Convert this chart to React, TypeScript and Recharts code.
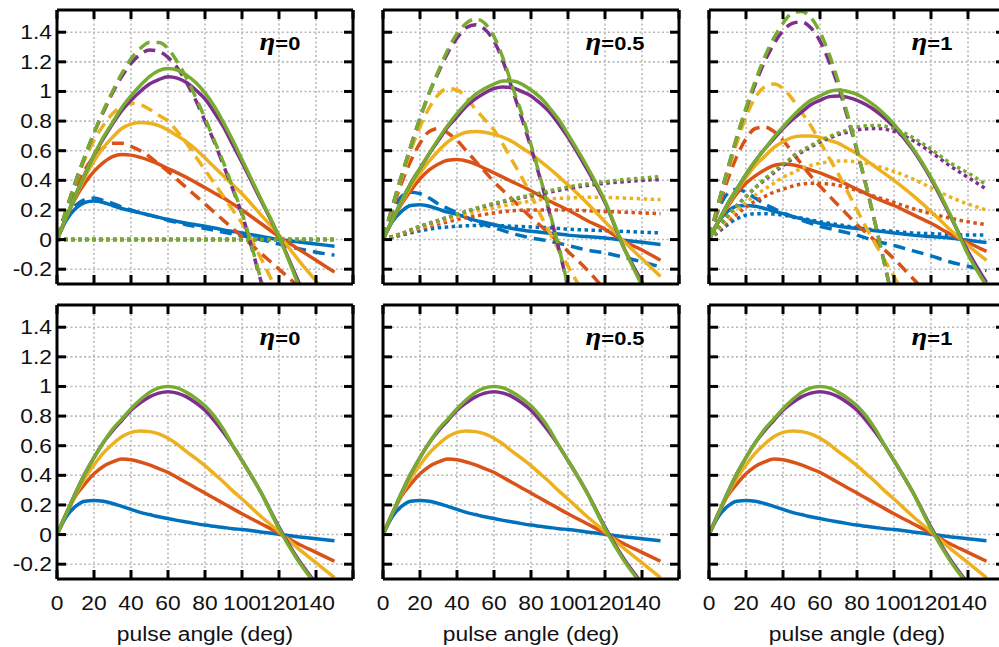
import React from "react";
import { LineChart, Line, XAxis, YAxis, CartesianGrid, ReferenceDot } from "recharts";

const ANGLES = [0, 5, 10, 15, 20, 25, 30, 35, 40, 45, 50, 55, 60, 65, 70, 75, 80, 85, 90, 95, 100, 110, 120, 130, 140, 150];

const X_DOMAIN = [0, 160];
const X_TICKS = [0, 20, 40, 60, 80, 100, 120, 140, 160];
const X_LABEL_MAX = 140;
const Y_DOMAIN = [-0.3, 1.55];
const Y_TICKS = [-0.2, 0, 0.2, 0.4, 0.6, 0.8, 1, 1.2, 1.4];
const ETA_LABELS = ["0", "0.5", "1"];
const ETA_POS = { x: 109.5, y: 1.277 };
const X_TITLE = "pulse angle (deg)";

// ---- bottom row (identical in all three panels) ----
const BOT_BLUE = [0, 0.12, 0.19, 0.225, 0.23, 0.225, 0.21, 0.19, 0.17, 0.15, 0.135, 0.12, 0.108, 0.096, 0.085, 0.074, 0.064, 0.056, 0.048, 0.04, 0.034, 0.018, 0.002, -0.014, -0.028, -0.042];
const BOT_RED = [0, 0.14, 0.26, 0.34, 0.41, 0.46, 0.49, 0.51, 0.505, 0.49, 0.47, 0.445, 0.42, 0.385, 0.35, 0.315, 0.28, 0.245, 0.21, 0.175, 0.14, 0.075, 0.01, -0.06, -0.12, -0.18];
const BOT_YELLOW = [0, 0.14, 0.27, 0.38, 0.47, 0.55, 0.61, 0.66, 0.69, 0.7, 0.695, 0.68, 0.65, 0.61, 0.56, 0.515, 0.465, 0.41, 0.355, 0.295, 0.24, 0.125, 0.02, -0.09, -0.19, -0.29];
const BOT_PURPLE = [0, 0.14, 0.28, 0.41, 0.52, 0.62, 0.7, 0.77, 0.84, 0.89, 0.93, 0.955, 0.965, 0.955, 0.93, 0.89, 0.84, 0.77, 0.69, 0.6, 0.5, 0.29, 0.05, -0.16, -0.33, -0.49];
const BOT_GREEN = [0, 0.14, 0.28, 0.41, 0.52, 0.62, 0.71, 0.78, 0.85, 0.91, 0.96, 0.99, 1.0, 0.99, 0.96, 0.92, 0.87, 0.8, 0.71, 0.6, 0.5, 0.29, 0.04, -0.17, -0.34, -0.5];

// ---- top row, eta = 0 ----
const E0_SOLID_BLUE = [0, 0.13, 0.21, 0.25, 0.26, 0.25, 0.23, 0.21, 0.195, 0.18, 0.165, 0.15, 0.135, 0.122, 0.11, 0.1, 0.09, 0.078, 0.065, 0.055, 0.045, 0.022, 0.0, -0.015, -0.03, -0.045];
const E0_SOLID_RED = [0, 0.15, 0.28, 0.38, 0.46, 0.52, 0.56, 0.575, 0.57, 0.555, 0.535, 0.51, 0.48, 0.45, 0.42, 0.385, 0.35, 0.315, 0.28, 0.24, 0.2, 0.11, 0.02, -0.06, -0.14, -0.22];
const E0_SOLID_YELLOW = [0, 0.15, 0.29, 0.42, 0.53, 0.62, 0.69, 0.75, 0.78, 0.79, 0.785, 0.77, 0.74, 0.7, 0.66, 0.61, 0.55, 0.49, 0.43, 0.37, 0.31, 0.17, 0.03, -0.13, -0.28, -0.43];
const E0_SOLID_PURPLE = [0, 0.15, 0.3, 0.44, 0.57, 0.68, 0.78, 0.87, 0.94, 1.0, 1.05, 1.08, 1.1, 1.09, 1.06, 1.01, 0.95, 0.86, 0.76, 0.64, 0.52, 0.27, 0.02, -0.27, -0.55, -0.85];
const E0_SOLID_GREEN = [0, 0.15, 0.3, 0.44, 0.57, 0.69, 0.79, 0.89, 0.97, 1.04, 1.1, 1.14, 1.155, 1.145, 1.11, 1.06, 0.99, 0.9, 0.79, 0.67, 0.54, 0.28, 0.02, -0.29, -0.6, -0.9];
const E0_DASH_BLUE = [0, 0.14, 0.23, 0.27, 0.28, 0.265, 0.245, 0.22, 0.2, 0.18, 0.165, 0.15, 0.13, 0.115, 0.1, 0.088, 0.075, 0.062, 0.05, 0.037, 0.025, 0.0, -0.03, -0.06, -0.085, -0.105];
const E0_DASH_RED = [0, 0.19, 0.35, 0.47, 0.56, 0.62, 0.65, 0.65, 0.63, 0.6, 0.56, 0.51, 0.46, 0.405, 0.35, 0.295, 0.24, 0.185, 0.13, 0.075, 0.02, -0.09, -0.2, -0.31, null, null];
const E0_DASH_YELLOW = [0, 0.2, 0.38, 0.54, 0.67, 0.77, 0.85, 0.9, 0.92, 0.91, 0.88, 0.84, 0.8, 0.73, 0.65, 0.56, 0.47, 0.38, 0.29, 0.2, 0.11, -0.12, -0.38, null, null, null];
const E0_DASH_PURPLE = [0, 0.2, 0.39, 0.56, 0.72, 0.86, 0.99, 1.1, 1.19, 1.25, 1.28, 1.27, 1.23, 1.16, 1.06, 0.94, 0.8, 0.66, 0.5, 0.34, 0.17, -0.27, -0.7, null, null, null];
const E0_DASH_GREEN = [0, 0.2, 0.39, 0.56, 0.72, 0.87, 1.0, 1.12, 1.22, 1.29, 1.33, 1.33, 1.29, 1.2, 1.09, 0.96, 0.82, 0.67, 0.52, 0.35, 0.18, -0.26, -0.7, null, null, null];
const E0_DOT = [0, 0, 0, 0, 0, 0, 0, 0, 0, 0, 0, 0, 0, 0, 0, 0, 0, 0, 0, 0, 0, 0, 0, 0, 0, 0];

// ---- top row, eta = 0.5 ----
const E05_SOLID_BLUE = [0, 0.12, 0.19, 0.23, 0.235, 0.225, 0.205, 0.185, 0.17, 0.15, 0.13, 0.115, 0.1, 0.087, 0.075, 0.065, 0.056, 0.05, 0.043, 0.037, 0.03, 0.02, 0.01, -0.005, -0.018, -0.033];
const E05_SOLID_RED = [0, 0.13, 0.24, 0.33, 0.41, 0.47, 0.51, 0.535, 0.54, 0.53, 0.51, 0.48, 0.45, 0.42, 0.39, 0.36, 0.33, 0.295, 0.26, 0.23, 0.2, 0.13, 0.07, -0.01, -0.07, -0.14];
const E05_SOLID_YELLOW = [0, 0.13, 0.25, 0.36, 0.45, 0.53, 0.6, 0.66, 0.7, 0.725, 0.73, 0.725, 0.71, 0.69, 0.66, 0.62, 0.58, 0.53, 0.48, 0.425, 0.37, 0.25, 0.12, -0.01, -0.13, -0.25];
const E05_SOLID_PURPLE = [0, 0.13, 0.26, 0.38, 0.48, 0.58, 0.67, 0.76, 0.83, 0.9, 0.95, 0.99, 1.02, 1.03, 1.025, 1.0, 0.97, 0.92, 0.86, 0.78, 0.69, 0.48, 0.25, -0.05, -0.29, -0.55];
const E05_SOLID_GREEN = [0, 0.13, 0.26, 0.38, 0.48, 0.58, 0.68, 0.77, 0.85, 0.92, 0.98, 1.02, 1.05, 1.07, 1.07, 1.05, 1.01, 0.96, 0.89, 0.81, 0.71, 0.5, 0.26, -0.05, -0.31, -0.56];
const E05_DASH_BLUE = [0, 0.19, 0.29, 0.32, 0.31, 0.28, 0.24, 0.21, 0.18, 0.15, 0.12, 0.1, 0.08, 0.06, 0.04, 0.025, 0.01, 0.0, -0.01, -0.025, -0.04, -0.07, -0.09, -0.12, -0.15, -0.185];
const E05_DASH_RED = [0, 0.2, 0.38, 0.53, 0.65, 0.73, 0.75, 0.72, 0.67, 0.6, 0.53, 0.46, 0.39, 0.33, 0.27, 0.21, 0.15, 0.095, 0.04, -0.02, -0.08, -0.2, -0.34, null, null, null];
const E05_DASH_YELLOW = [0, 0.21, 0.41, 0.6, 0.76, 0.89, 0.98, 1.02, 1.01, 0.96, 0.88, 0.81, 0.74, 0.64, 0.53, 0.42, 0.3, 0.17, 0.05, -0.07, -0.18, -0.4, null, null, null, null];
const E05_DASH_PURPLE = [0, 0.22, 0.43, 0.63, 0.82, 0.99, 1.13, 1.26, 1.36, 1.43, 1.45, 1.42, 1.34, 1.2, 1.01, 0.82, 0.62, 0.41, 0.18, -0.06, -0.32, null, null, null, null, null];
const E05_DASH_GREEN = [0, 0.22, 0.43, 0.63, 0.82, 0.99, 1.14, 1.28, 1.39, 1.46, 1.49, 1.46, 1.37, 1.22, 1.03, 0.85, 0.64, 0.42, 0.19, -0.05, -0.32, null, null, null, null, null];
const E05_DOT_BLUE = [0, 0.015, 0.03, 0.045, 0.06, 0.07, 0.08, 0.085, 0.09, 0.093, 0.095, 0.095, 0.095, 0.093, 0.09, 0.088, 0.085, 0.082, 0.08, 0.075, 0.07, 0.065, 0.06, 0.055, 0.05, 0.045];
const E05_DOT_RED = [0, 0.02, 0.035, 0.055, 0.075, 0.09, 0.105, 0.12, 0.135, 0.148, 0.16, 0.17, 0.18, 0.188, 0.195, 0.198, 0.2, 0.2, 0.2, 0.2, 0.2, 0.195, 0.19, 0.185, 0.18, 0.175];
const E05_DOT_YELLOW = [0, 0.02, 0.04, 0.06, 0.08, 0.1, 0.12, 0.138, 0.155, 0.172, 0.19, 0.203, 0.215, 0.228, 0.24, 0.25, 0.26, 0.268, 0.275, 0.278, 0.28, 0.285, 0.285, 0.28, 0.275, 0.27];
const E05_DOT_PURPLE = [0, 0.02, 0.04, 0.065, 0.09, 0.11, 0.13, 0.15, 0.17, 0.19, 0.21, 0.225, 0.24, 0.255, 0.27, 0.283, 0.295, 0.308, 0.32, 0.333, 0.345, 0.365, 0.38, 0.39, 0.4, 0.405];
const E05_DOT_GREEN = [0, 0.02, 0.04, 0.065, 0.09, 0.11, 0.13, 0.15, 0.17, 0.19, 0.21, 0.228, 0.245, 0.26, 0.275, 0.288, 0.3, 0.315, 0.33, 0.343, 0.355, 0.375, 0.39, 0.405, 0.415, 0.425];

// ---- top row, eta = 1 ----
const E1_SOLID_BLUE = [0, 0.12, 0.19, 0.225, 0.23, 0.225, 0.21, 0.192, 0.175, 0.157, 0.14, 0.125, 0.11, 0.1, 0.09, 0.082, 0.075, 0.067, 0.06, 0.052, 0.045, 0.03, 0.02, 0.01, -0.005, -0.02];
const E1_SOLID_RED = [0, 0.12, 0.22, 0.31, 0.38, 0.43, 0.47, 0.5, 0.51, 0.505, 0.49, 0.47, 0.45, 0.425, 0.4, 0.37, 0.34, 0.31, 0.28, 0.255, 0.23, 0.17, 0.11, 0.04, -0.02, -0.08];
const E1_SOLID_YELLOW = [0, 0.12, 0.23, 0.33, 0.42, 0.5, 0.56, 0.62, 0.66, 0.69, 0.7, 0.7, 0.69, 0.67, 0.65, 0.615, 0.58, 0.535, 0.49, 0.445, 0.4, 0.3, 0.19, 0.07, -0.04, -0.14];
const E1_SOLID_PURPLE = [0, 0.12, 0.24, 0.34, 0.44, 0.53, 0.61, 0.68, 0.75, 0.81, 0.86, 0.91, 0.94, 0.965, 0.97, 0.96, 0.94, 0.91, 0.87, 0.82, 0.76, 0.61, 0.41, 0.17, -0.08, -0.29];
const E1_SOLID_GREEN = [0, 0.12, 0.24, 0.34, 0.44, 0.53, 0.61, 0.69, 0.76, 0.83, 0.89, 0.94, 0.97, 1.0, 1.01, 1.0, 0.98, 0.945, 0.9, 0.845, 0.78, 0.62, 0.42, 0.18, -0.1, -0.31];
const E1_DASH_BLUE = [0, 0.2, 0.31, 0.34, 0.32, 0.28, 0.24, 0.21, 0.18, 0.155, 0.13, 0.11, 0.09, 0.075, 0.06, 0.045, 0.03, 0.01, -0.01, -0.025, -0.04, -0.075, -0.11, -0.15, -0.18, -0.21];
const E1_DASH_RED = [0, 0.21, 0.4, 0.56, 0.68, 0.75, 0.76, 0.73, 0.67, 0.59, 0.51, 0.43, 0.36, 0.295, 0.23, 0.165, 0.1, 0.045, -0.01, -0.07, -0.13, -0.26, -0.39, null, null, null];
const E1_DASH_YELLOW = [0, 0.23, 0.45, 0.65, 0.83, 0.96, 1.03, 1.05, 1.02, 0.95, 0.86, 0.77, 0.66, 0.55, 0.44, 0.32, 0.2, 0.08, -0.03, -0.14, -0.25, -0.47, null, null, null, null];
const E1_DASH_PURPLE = [0, 0.24, 0.47, 0.69, 0.88, 1.05, 1.2, 1.32, 1.41, 1.46, 1.47, 1.43, 1.34, 1.2, 1.03, 0.82, 0.6, 0.36, 0.1, -0.17, -0.45, null, null, null, null, null];
const E1_DASH_GREEN = [0, 0.24, 0.47, 0.69, 0.89, 1.07, 1.23, 1.36, 1.46, 1.53, 1.54, 1.5, 1.4, 1.25, 1.06, 0.84, 0.61, 0.36, 0.1, -0.17, -0.45, null, null, null, null, null];
const E1_DOT_BLUE = [0, 0.05, 0.1, 0.14, 0.165, 0.175, 0.175, 0.172, 0.165, 0.155, 0.145, 0.132, 0.12, 0.11, 0.1, 0.09, 0.08, 0.072, 0.065, 0.06, 0.055, 0.045, 0.04, 0.035, 0.03, 0.03];
const E1_DOT_RED = [0, 0.06, 0.12, 0.17, 0.22, 0.26, 0.29, 0.32, 0.34, 0.36, 0.375, 0.38, 0.38, 0.375, 0.365, 0.35, 0.33, 0.31, 0.29, 0.27, 0.25, 0.21, 0.175, 0.145, 0.12, 0.1];
const E1_DOT_YELLOW = [0, 0.07, 0.14, 0.2, 0.25, 0.3, 0.34, 0.38, 0.42, 0.45, 0.48, 0.5, 0.515, 0.525, 0.53, 0.53, 0.525, 0.515, 0.5, 0.48, 0.46, 0.41, 0.35, 0.29, 0.24, 0.2];
const E1_DOT_PURPLE = [0, 0.08, 0.16, 0.23, 0.29, 0.35, 0.4, 0.45, 0.5, 0.545, 0.59, 0.625, 0.66, 0.685, 0.71, 0.725, 0.74, 0.748, 0.75, 0.745, 0.73, 0.67, 0.59, 0.5, 0.42, 0.34];
const E1_DOT_GREEN = [0, 0.08, 0.16, 0.23, 0.29, 0.35, 0.41, 0.46, 0.51, 0.555, 0.6, 0.635, 0.67, 0.695, 0.72, 0.74, 0.76, 0.768, 0.77, 0.765, 0.75, 0.69, 0.61, 0.52, 0.45, 0.37];

// MATLAB default line colours
const COLORS = ["#0072BD", "#D95319", "#EDB120", "#7E2F8E", "#77AC30"];
const COLOR_NAMES = ["blue", "red", "yellow", "purple", "green"];
const DASH: Record<string, string | undefined> = { solid: undefined, dashed: "12 7", dotted: "3.5 3.5" };
const LINE_W = 3.5;

const FONT = "'Liberation Sans', Arial, Helvetica, sans-serif";
const SERIF = "'Liberation Serif', 'Times New Roman', serif";
const SX = 1.17; // labels in the figure are a bit horizontally stretched
const FS = 19.5;
const TICK_LEN = 9;

const PLOT_W = 296;
const PLOT_H = 274;
const COL_LEFT = [57, 383, 709];
const ROW_TOP = [10, 305];

type Style = "solid" | "dashed" | "dotted";
type Vals = (number | null)[];
interface SeriesDef {
  key: string;
  color: string;
  style: Style;
  values: Vals;
}

function makeSeries(groups: Partial<Record<Style, Vals[]>>): SeriesDef[] {
  const out: SeriesDef[] = [];
  COLORS.forEach((color, ci) => {
    (["solid", "dashed", "dotted"] as Style[]).forEach((style) => {
      const list = groups[style];
      if (!list) return;
      out.push({ key: `${style}_${COLOR_NAMES[ci]}`, color, style, values: list[ci] });
    });
  });
  return out;
}

function buildRows(series: SeriesDef[]) {
  return ANGLES.map((a, i) => {
    const row: Record<string, number | null> = { angle: a };
    series.forEach((s) => {
      row[s.key] = s.values[i] ?? null;
    });
    return row;
  });
}

const TOP_SERIES = [
  makeSeries({
    solid: [E0_SOLID_BLUE, E0_SOLID_RED, E0_SOLID_YELLOW, E0_SOLID_PURPLE, E0_SOLID_GREEN],
    dashed: [E0_DASH_BLUE, E0_DASH_RED, E0_DASH_YELLOW, E0_DASH_PURPLE, E0_DASH_GREEN],
    dotted: [E0_DOT, E0_DOT, E0_DOT, E0_DOT, E0_DOT],
  }),
  makeSeries({
    solid: [E05_SOLID_BLUE, E05_SOLID_RED, E05_SOLID_YELLOW, E05_SOLID_PURPLE, E05_SOLID_GREEN],
    dashed: [E05_DASH_BLUE, E05_DASH_RED, E05_DASH_YELLOW, E05_DASH_PURPLE, E05_DASH_GREEN],
    dotted: [E05_DOT_BLUE, E05_DOT_RED, E05_DOT_YELLOW, E05_DOT_PURPLE, E05_DOT_GREEN],
  }),
  makeSeries({
    solid: [E1_SOLID_BLUE, E1_SOLID_RED, E1_SOLID_YELLOW, E1_SOLID_PURPLE, E1_SOLID_GREEN],
    dashed: [E1_DASH_BLUE, E1_DASH_RED, E1_DASH_YELLOW, E1_DASH_PURPLE, E1_DASH_GREEN],
    dotted: [E1_DOT_BLUE, E1_DOT_RED, E1_DOT_YELLOW, E1_DOT_PURPLE, E1_DOT_GREEN],
  }),
];
const BOTTOM_SERIES = makeSeries({ solid: [BOT_BLUE, BOT_RED, BOT_YELLOW, BOT_PURPLE, BOT_GREEN] });

function fmtY(v: number) {
  return v === 0 ? "0" : String(v);
}

function BottomTick(props: any) {
  const { x, y, payload, showLabel } = props;
  const v = payload.value;
  return (
    <g>
      <line x1={x} x2={x} y1={y} y2={y - TICK_LEN} stroke="#000" strokeWidth={3} />
      {showLabel && v <= X_LABEL_MAX && (
        <g transform={`translate(${x},${y + 31}) scale(${SX},1)`}>
          <text x={0} y={0} textAnchor="middle" fontFamily={FONT} fontSize={FS} fill="#111">
            {v}
          </text>
        </g>
      )}
    </g>
  );
}

function TopTick(props: any) {
  const { x, y } = props;
  return <line x1={x} x2={x} y1={y} y2={y + TICK_LEN} stroke="#000" strokeWidth={3} />;
}

function LeftTick(props: any) {
  const { x, y, payload, showLabel } = props;
  return (
    <g>
      <line x1={x} x2={x + TICK_LEN} y1={y} y2={y} stroke="#000" strokeWidth={3} />
      {showLabel && (
        <g transform={`translate(${x - 5},${y}) scale(${SX},1)`}>
          <text x={0} y={0} dy="0.36em" textAnchor="end" fontFamily={FONT} fontSize={FS} fill="#111">
            {fmtY(payload.value)}
          </text>
        </g>
      )}
    </g>
  );
}

function RightTick(props: any) {
  const { x, y } = props;
  return <line x1={x} x2={x - TICK_LEN} y1={y} y2={y} stroke="#000" strokeWidth={3} />;
}

function TitleLabel(props: any) {
  const { viewBox } = props;
  const cx = viewBox.x + viewBox.width / 2;
  return (
    <g transform={`translate(${cx},${viewBox.y + 62}) scale(${SX},1)`}>
      <text x={0} y={0} textAnchor="middle" fontFamily={FONT} fontSize={FS} fill="#111">
        {X_TITLE}
      </text>
    </g>
  );
}

function EtaLabel(props: any) {
  const { viewBox, value } = props;
  return (
    <g transform={`translate(${viewBox.x},${viewBox.y}) scale(1.15,1)`}>
      <text x={0} y={0} fontFamily={FONT} fontWeight="bold" fontSize={19} fill="#000">
        <tspan fontFamily={SERIF} fontStyle="italic" fontWeight="bold" fontSize={25}>
          η
        </tspan>
        ={value}
      </text>
    </g>
  );
}

const AXIS_LINE = { stroke: "#000", strokeWidth: 3 };

function Panel({ row, col, series }: { row: number; col: number; series: SeriesDef[] }) {
  const showX = row === 1;
  const showY = col === 0;
  const padL = 60;
  const padR = 12;
  const padT = 12;
  const padB = showX ? 74 : 12;
  const rows = buildRows(series);
  const eta = ETA_LABELS[col];

  return (
    <div style={{ position: "absolute", left: COL_LEFT[col] - padL, top: ROW_TOP[row] - padT }}>
      <LineChart
        width={PLOT_W + padL + padR}
        height={PLOT_H + padT + padB}
        data={rows}
        margin={{ top: padT - 1, right: padR - 1, bottom: padB - 1, left: padL - 1 }}
      >
        <CartesianGrid stroke="#b8b8b8" strokeWidth={1.6} strokeDasharray="2 2.5" />
        <XAxis
          dataKey="angle"
          type="number"
          domain={X_DOMAIN}
          ticks={X_TICKS}
          interval={0}
          allowDataOverflow
          height={1}
          tickSize={0}
          tickMargin={0}
          tickLine={false}
          axisLine={AXIS_LINE}
          tick={<BottomTick showLabel={showX} />}
          label={showX ? { content: (p: any) => <TitleLabel {...p} /> } : undefined}
        />
        <XAxis
          xAxisId="top"
          orientation="top"
          dataKey="angle"
          type="number"
          domain={X_DOMAIN}
          ticks={X_TICKS}
          interval={0}
          allowDataOverflow
          height={1}
          tickSize={0}
          tickMargin={0}
          tickLine={false}
          axisLine={AXIS_LINE}
          tick={<TopTick />}
        />
        <YAxis
          type="number"
          domain={Y_DOMAIN}
          ticks={Y_TICKS}
          interval={0}
          allowDataOverflow
          width={1}
          tickSize={0}
          tickMargin={0}
          tickLine={false}
          axisLine={AXIS_LINE}
          tick={<LeftTick showLabel={showY} />}
        />
        <YAxis
          yAxisId="right"
          orientation="right"
          type="number"
          domain={Y_DOMAIN}
          ticks={Y_TICKS}
          interval={0}
          allowDataOverflow
          width={1}
          tickSize={0}
          tickMargin={0}
          tickLine={false}
          axisLine={AXIS_LINE}
          tick={<RightTick />}
        />
        {series.map((s) => (
          <Line
            key={s.key}
            dataKey={s.key}
            type="monotone"
            stroke={s.color}
            strokeWidth={LINE_W}
            strokeDasharray={DASH[s.style]}
            dot={false}
            activeDot={false}
            connectNulls={false}
            isAnimationActive={false}
          />
        ))}
        <ReferenceDot
          x={ETA_POS.x}
          y={ETA_POS.y}
          r={0}
          fill="none"
          stroke="none"
          label={(p: any) => <EtaLabel {...p} value={eta} />}
        />
      </LineChart>
    </div>
  );
}

export default function App() {
  return (
    <div
      style={{
        position: "fixed",
        left: 0,
        top: 0,
        width: 999,
        height: 647,
        overflow: "hidden",
        background: "#fff",
      }}
    >
      {TOP_SERIES.map((series, col) => (
        <Panel key={`t${col}`} row={0} col={col} series={series} />
      ))}
      {[0, 1, 2].map((col) => (
        <Panel key={`b${col}`} row={1} col={col} series={BOTTOM_SERIES} />
      ))}
    </div>
  );
}
